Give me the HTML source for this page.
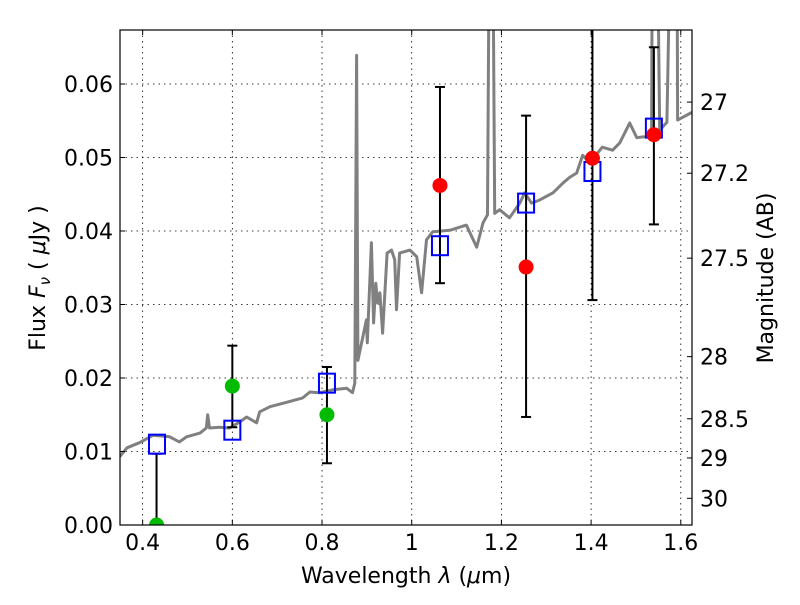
<!DOCTYPE html>
<html><head><meta charset="utf-8"><style>
body{margin:0;background:#fff}
svg text{font-family:"DejaVu Sans","Liberation Sans",sans-serif;fill:#000}
</style></head><body>
<svg id="chart" width="800" height="600" xmlns="http://www.w3.org/2000/svg">
<defs><clipPath id="clip"><rect x="120" y="30" width="572" height="495"/></clipPath></defs>
<rect x="0" y="0" width="800" height="600" fill="#fff"/>
<g id="grid"></g>
<g id="spec" clip-path="url(#clip)"></g>
<g id="marks" clip-path="url(#clip)"></g>
<rect x="120" y="30" width="572" height="495" fill="none" stroke="#000" stroke-width="1.2"/>
<g id="axes"></g>
<text x="406" y="583" font-size="22" text-anchor="middle">Wavelength  <tspan font-style="italic">λ</tspan> (<tspan font-style="italic">μ</tspan>m)</text>
<text transform="translate(45,278) rotate(-90)" font-size="22" text-anchor="middle">Flux  <tspan font-style="italic">F</tspan><tspan font-style="italic" font-size="15" dy="5">ν</tspan><tspan dy="-5">  ( </tspan><tspan font-style="italic">μ</tspan>Jy )</text>
<text transform="translate(773,278) rotate(-90)" font-size="22" text-anchor="middle">Magnitude (AB)</text>
</svg>
<script>
const specX=[0.349,0.365,0.393,0.423,0.460,0.482,0.498,0.528,0.542,0.545,0.549,0.572,0.594,0.616,0.632,0.654,0.661,0.684,0.721,0.757,0.773,0.794,0.824,0.855,0.868,0.873,0.877,0.880,0.899,0.901,0.910,0.915,0.920,0.924,0.929,0.935,0.945,0.955,0.962,0.966,0.973,0.996,1.011,1.022,1.033,1.047,1.085,1.122,1.145,1.159,1.169,1.174,1.180,1.185,1.196,1.218,1.241,1.252,1.267,1.285,1.315,1.337,1.352,1.368,1.381,1.397,1.425,1.448,1.464,1.486,1.502,1.515,1.535,1.537,1.546,1.553,1.569,1.580,1.591,1.593,1.602,1.627];
const specY=[0.0093,0.0105,0.0112,0.0122,0.0120,0.0113,0.0120,0.0125,0.0132,0.0150,0.0132,0.0133,0.0132,0.0140,0.0147,0.0139,0.0154,0.0161,0.0167,0.0173,0.0181,0.0180,0.0184,0.0186,0.0180,0.0193,0.0639,0.0224,0.0279,0.0248,0.0384,0.0275,0.0329,0.0302,0.0316,0.0261,0.0370,0.0374,0.0361,0.0293,0.0370,0.0374,0.0365,0.0316,0.0388,0.0399,0.0401,0.0408,0.0378,0.0411,0.0422,0.09,0.09,0.0424,0.0429,0.0418,0.0438,0.0452,0.0438,0.0442,0.0452,0.0465,0.0473,0.0479,0.0503,0.0493,0.0514,0.0510,0.0520,0.0547,0.0527,0.0528,0.0528,0.09,0.09,0.0537,0.0548,0.09,0.09,0.0551,0.0554,0.0562];
const obsX=[0.431,0.600,0.811,1.063,1.255,1.403,1.540];
const obsY=[0.0,0.0189,0.0150,0.0462,0.0351,0.0499,0.0531];
const obsLo=[0.0,0.0133,0.0084,0.0329,0.0147,0.0306,0.0409];
const obsHi=[0.0097,0.0244,0.0215,0.0596,0.0557,0.075,0.0650];
const obsColor=['#00bb00','#00bb00','#00bb00','#ff0000','#ff0000','#ff0000','#ff0000'];
const modX=[0.432,0.600,0.811,1.063,1.255,1.403,1.540];
const modY=[0.0110,0.0129,0.0193,0.0380,0.0438,0.0481,0.0540];
const xTicks=[0.4,0.6,0.8,1.0,1.2,1.4,1.6];
const xTickLabels=['0.4','0.6','0.8','1','1.2','1.4','1.6'];
const yTicks=[0,0.01,0.02,0.03,0.04,0.05,0.06];
const yTickLabels=['0.00','0.01','0.02','0.03','0.04','0.05','0.06'];
const magTicks=[27,27.2,27.5,28,28.5,29,30];
const magTickLabels=['27','27.2','27.5','28','28.5','29','30'];

const X0=120,X1=692,Y0=30,Y1=525,xmin=0.3495,xmax=1.625,ymin=0,ymax=0.06735;
const sx=v=>X0+(v-xmin)/(xmax-xmin)*(X1-X0);
const sy=v=>Y1-(v-ymin)/(ymax-ymin)*(Y1-Y0);
const magToFlux=m=>Math.pow(10,-(m-23.9)/2.5);
const NS='http://www.w3.org/2000/svg';
function mk(tag,parent,attrs){const e=document.createElementNS(NS,tag);for(const k in attrs)e.setAttribute(k,attrs[k]);parent.appendChild(e);return e;}
const grid=document.getElementById('grid'),axes=document.getElementById('axes');
xTicks.forEach((t,i)=>{const x=sx(t);
 const g=mk('line',grid,{x1:x,x2:x,y1:Y0,y2:Y1,stroke:'#000','stroke-width':0.8,'stroke-dasharray':'1.5,4'});
 
 
 mk('line',axes,{x1:x,x2:x,y1:Y1,y2:Y1-5,stroke:'#000'});
 mk('line',axes,{x1:x,x2:x,y1:Y0,y2:Y0+5,stroke:'#000'});
 const tx=mk('text',axes,{x:x,y:Y1+25,'font-size':22,'text-anchor':'middle'});tx.textContent=xTickLabels[i];
 
 
});
yTicks.forEach((t,i)=>{const y=sy(t);
 const g=mk('line',grid,{x1:X0,x2:X1,y1:y,y2:y,stroke:'#000','stroke-width':0.8,'stroke-dasharray':'1.5,4'});
 
 
 mk('line',axes,{x1:X0,x2:X0+5,y1:y,y2:y,stroke:'#000'});
 const tx=mk('text',axes,{x:X0-7,y:y+8,'font-size':22,'text-anchor':'end'});tx.textContent=yTickLabels[i];
 
 
});
magTicks.forEach((m,i)=>{const y=sy(magToFlux(m));
 mk('line',axes,{x1:X1,x2:X1-5,y1:y,y2:y,stroke:'#000'});
 const tx=mk('text',axes,{x:X1+8,y:y+8,'font-size':22});tx.textContent=magTickLabels[i];
 
 
});
const spec=document.getElementById('spec');
const pl=mk('polyline',spec,{points:specX.map((x,i)=>sx(x).toFixed(1)+','+sy(specY[i]).toFixed(1)).join(' '),fill:'none',stroke:'#808080','stroke-width':3,'stroke-linejoin':'round'});


const marks=document.getElementById('marks');
obsX.forEach((v,i)=>{const x=sx(v);
 const e=mk('line',marks,{x1:x,x2:x,y1:sy(obsLo[i]),y2:sy(obsHi[i]),stroke:'#000','stroke-width':2});
 
 
 [obsLo[i],obsHi[i]].forEach(c=>mk('line',marks,{x1:x-5,x2:x+5,y1:sy(c),y2:sy(c),stroke:'#000','stroke-width':2}));
});
modX.forEach((v,i)=>{
 const r=mk('rect',marks,{x:sx(v)-8,y:sy(modY[i])-9.5,width:16,height:19,fill:'none',stroke:'#0000ff','stroke-width':2});
 
 
});
obsX.forEach((v,i)=>{
 const c=mk('circle',marks,{cx:sx(v),cy:sy(obsY[i]),r:7.5,fill:obsColor[i]});
 
 
});
</script>
</body></html>
